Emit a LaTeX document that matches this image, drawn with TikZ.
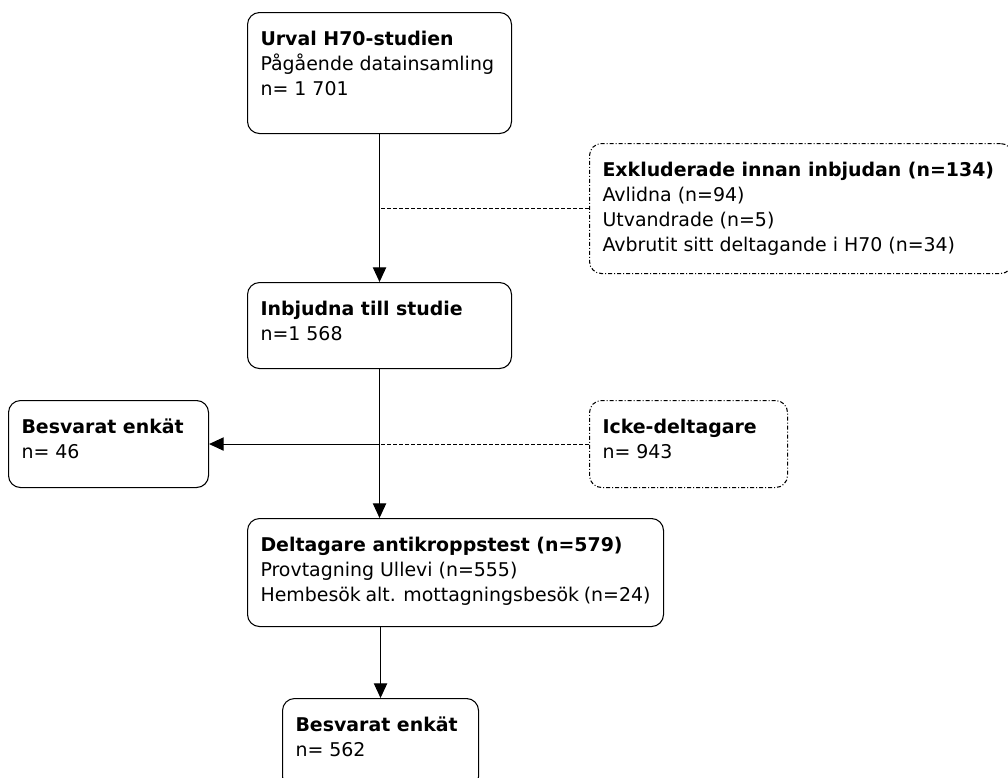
\documentclass[tikz,border=0pt]{standalone}
\usepackage{fontspec}
\setmainfont{DejaVu Sans}
\usetikzlibrary{arrows.meta}

% text block inside a box: width, height, lines
\newcommand{\boxtext}[3]{\parbox[c][#2][t]{#1}{\rule{0pt}{24.5pt}#3}}

\tikzset{
  flowbox/.style={draw, rounded corners=9pt, line width=0.8pt, anchor=north west,
    inner xsep=9.75pt, inner ysep=0pt, font=\fontsize{14.2}{18.7}\selectfont},
  dropbox/.style={flowbox, dash pattern=on 3pt off 1.5pt on 0.75pt off 1.5pt},
  flow/.style={line width=0.8pt, -{Triangle[length=11pt,width=10pt]}},
  side/.style={line width=0.8pt, dash pattern=on 3pt off 1.5pt}
}

\begin{document}
\begin{tikzpicture}[x=0.75pt, y=-0.75pt]
  \useasboundingbox (0,0) rectangle (1008,778);
  \clip (0,0) rectangle (1008,778);
  % main line
  \node[flowbox] (urval) at (247,12)
    {\boxtext{178.5pt}{90.75pt}{\textbf{Urval H70-studien}\\Pågående datainsamling\\n= 1 701}};
  \node[flowbox] (inbjudna) at (247,282)
    {\boxtext{178.5pt}{64.5pt}{\textbf{Inbjudna till studie}\\n=1 568}};
  \node[flowbox] (deltagare) at (247,518)
    {\boxtext{292.5pt}{81pt}{\textbf{Deltagare antikroppstest (n=579)}\\Provtagning Ullevi (n=555)\\Hembesök alt. mottagningsbesök (n=24)}};
  \node[flowbox] (enkat) at (282,698)
    {\boxtext{127.5pt}{67.5pt}{\textbf{Besvarat enkät}\\n= 562}};
  % side boxes
  \node[dropbox] (exkl) at (589,143)
    {\boxtext{297.75pt}{97.5pt}{\textbf{Exkluderade innan inbjudan (n=134)}\\Avlidna (n=94)\\Utvandrade (n=5)\\Avbrutit sitt deltagande i H70 (n=34)}};
  \node[flowbox] (enkatx) at (8,400)
    {\boxtext{130.5pt}{65.25pt}{\textbf{Besvarat enkät}\\n= 46}};
  \node[dropbox] (icke) at (589,400)
    {\boxtext{129pt}{65.25pt}{\textbf{Icke-deltagare}\\n= 943}};
  % connectors
  \draw[flow] (urval) -- (inbjudna);
  \draw[side] (exkl.west) -- (urval.south |- exkl.west);
  \draw[flow] (inbjudna.south) -- (inbjudna.south |- deltagare.north);
  \coordinate (split) at (inbjudna.south |- icke.west);
  \draw[side] (icke.west) -- (split);
  \draw[flow] (split) -- (enkatx.east);
  \draw[flow] (enkat.north |- deltagare.south) -- (enkat.north);
\end{tikzpicture}
\end{document}
